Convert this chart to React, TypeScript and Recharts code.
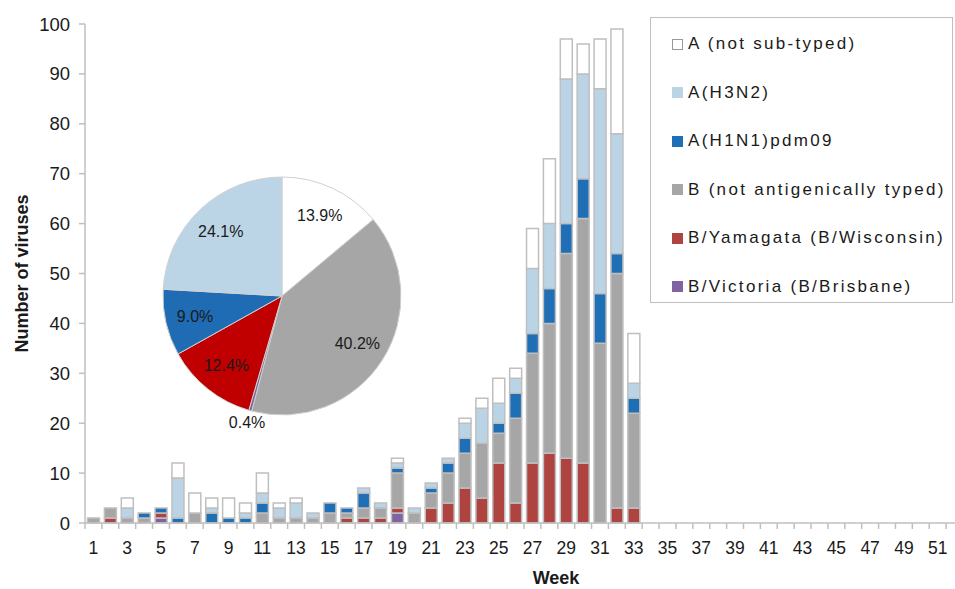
import { BarChart, Bar, XAxis, YAxis, Label, Legend, PieChart, Pie, Cell } from "recharts"

const weeks = [
  1, 2, 3, 4, 5, 6, 7, 8, 9, 10, 11, 12, 13, 14, 15, 16, 17, 18, 19, 20, 21, 22, 23, 24, 25, 26,
  27, 28, 29, 30, 31, 32, 33, 34, 35, 36, 37, 38, 39, 40, 41, 42, 43, 44, 45, 46, 47, 48, 49, 50, 51, 52,
]

// counts per week, weeks 1..52
const aNotSubtyped = [
  0, 0, 2, 0, 0, 3, 4, 2, 4, 2, 4, 1, 1, 0, 0, 0, 0, 0, 1, 0, 0, 0, 1, 2, 5, 2,
  8, 13, 8, 6, 10, 21, 10, 0, 0, 0, 0, 0, 0, 0, 0, 0, 0, 0, 0, 0, 0, 0, 0, 0, 0, 0,
]
const aH3N2 = [
  0, 0, 2, 0, 0, 8, 0, 1, 0, 1, 2, 2, 3, 1, 0, 0, 1, 1, 1, 1, 1, 1, 3, 7, 4, 3,
  13, 13, 29, 21, 41, 24, 3, 0, 0, 0, 0, 0, 0, 0, 0, 0, 0, 0, 0, 0, 0, 0, 0, 0, 0, 0,
]
const aH1N1 = [
  0, 0, 0, 1, 1, 1, 0, 2, 1, 1, 2, 0, 0, 0, 2, 1, 3, 0, 1, 0, 1, 2, 3, 0, 2, 5,
  4, 7, 6, 8, 10, 4, 3, 0, 0, 0, 0, 0, 0, 0, 0, 0, 0, 0, 0, 0, 0, 0, 0, 0, 0, 0,
]
const bNotTyped = [
  1, 2, 1, 1, 0, 0, 2, 0, 0, 0, 2, 1, 1, 1, 2, 1, 2, 2, 7, 2, 3, 6, 7, 11, 6, 17,
  22, 26, 41, 49, 36, 47, 19, 0, 0, 0, 0, 0, 0, 0, 0, 0, 0, 0, 0, 0, 0, 0, 0, 0, 0, 0,
]
const bYamagata = [
  0, 1, 0, 0, 1, 0, 0, 0, 0, 0, 0, 0, 0, 0, 0, 1, 1, 1, 1, 0, 3, 4, 7, 5, 12, 4,
  12, 14, 13, 12, 0, 3, 3, 0, 0, 0, 0, 0, 0, 0, 0, 0, 0, 0, 0, 0, 0, 0, 0, 0, 0, 0,
]
const bVictoria = [
  0, 0, 0, 0, 1, 0, 0, 0, 0, 0, 0, 0, 0, 0, 0, 0, 0, 0, 2, 0, 0, 0, 0, 0, 0, 0,
  0, 0, 0, 0, 0, 0, 0, 0, 0, 0, 0, 0, 0, 0, 0, 0, 0, 0, 0, 0, 0, 0, 0, 0, 0, 0,
]

const yTicks = [0, 10, 20, 30, 40, 50, 60, 70, 80, 90, 100]

// season share (%), pie order clockwise from 12 o'clock
const pieNames = ["A (not sub-typed)", "B (not antigenically typed)", "B/Victoria (B/Brisbane)", "B/Yamagata (B/Wisconsin)", "A(H1N1)pdm09", "A(H3N2)"]
const pieShares = [13.9, 40.2, 0.4, 12.4, 9.0, 24.1]

const series = [
  { key: "vic", name: "B/Victoria (B/Brisbane)", color: "#8064a2" },
  { key: "yam", name: "B/Yamagata (B/Wisconsin)", color: "#ae4340" },
  { key: "bnt", name: "B (not antigenically typed)", color: "#a6a6a6" },
  { key: "h1", name: "A(H1N1)pdm09", color: "#1f6fb6" },
  { key: "h3", name: "A(H3N2)", color: "#bad4e6" },
  { key: "ant", name: "A (not sub-typed)", color: "#ffffff" },
]

const pieColors: Record<string, string> = {
  "A (not sub-typed)": "#ffffff",
  "A(H3N2)": "#bcd5e6",
  "A(H1N1)pdm09": "#1f6cb5",
  "B (not antigenically typed)": "#a6a6a6",
  "B/Yamagata (B/Wisconsin)": "#c00000",
  "B/Victoria (B/Brisbane)": "#8064a2",
}

const data = weeks.map((week, i) => ({
  week,
  vic: bVictoria[i],
  yam: bYamagata[i],
  bnt: bNotTyped[i],
  h1: aH1N1[i],
  h3: aH3N2[i],
  ant: aNotSubtyped[i],
}))

const pieData = pieNames.map((name, i) => ({ name, value: pieShares[i] }))

const FONT = "'Liberation Sans', Arial, sans-serif"
const AXIS = "#bfbfbf"
const CHART_W = 963
const PLOT_LEFT = 85
const PLOT_BOTTOM = 523
const BAND = (CHART_W - PLOT_LEFT) / weeks.length

const WeekTick = (props: any) => {
  const { x, payload } = props
  const left = x - BAND / 2
  return (
    <g>
      <line x1={left} x2={left} y1={PLOT_BOTTOM} y2={PLOT_BOTTOM + 6} stroke={AXIS} strokeWidth={1.5} />
      {payload.value % 2 === 1 && (
        <text x={x} y={PLOT_BOTTOM + 31} textAnchor="middle" fontSize={17.5} fill="#1a1a1a" fontFamily={FONT}>
          {payload.value}
        </text>
      )}
    </g>
  )
}

const LegendBox = () => (
  <div
    style={{
      width: 303,
      height: 286,
      boxSizing: "border-box",
      border: `1.5px solid ${AXIS}`,
      background: "#fff",
      paddingTop: 2,
      fontFamily: FONT,
    }}
  >
    {[...series].reverse().map((s) => (
      <div key={s.key} style={{ display: "flex", alignItems: "center", height: 48.5, paddingLeft: 21 }}>
        <span
          style={{
            width: 11,
            height: 11,
            flex: "none",
            boxSizing: "border-box",
            background: s.color,
            border: s.key === "ant" ? "1px solid #999" : "none",
            marginRight: 5,
          }}
        />
        <span style={{ fontSize: 17, letterSpacing: 2.3, color: "#1a1a1a", whiteSpace: "nowrap" }}>{s.name}</span>
      </div>
    ))}
  </div>
)

const RADIAN = Math.PI / 180

const pieLabel = (props: any) => {
  const { cx, cy, midAngle, outerRadius, value } = props
  const r = value < 1 ? outerRadius * 1.1 : outerRadius * 0.75
  const x = cx + r * Math.cos(-midAngle * RADIAN)
  const y = cy + r * Math.sin(-midAngle * RADIAN)
  return (
    <text x={x} y={y} textAnchor="middle" dominantBaseline="central" fontSize={16} fill="#1a1a1a" fontFamily={FONT}>
      {`${value.toFixed(1)}%`}
    </text>
  )
}

export default function App() {
  return (
    <div
      style={{
        position: "absolute",
        left: 0,
        top: 0,
        width: 955,
        height: 589,
        overflow: "hidden",
        background: "#fff",
        fontFamily: FONT,
      }}
    >
      <BarChart
        width={CHART_W}
        height={589}
        data={data}
        margin={{ top: 24, right: 0, bottom: 0, left: 25 }}
        barCategoryGap="15%"
      >
        <XAxis
          dataKey="week"
          interval={0}
          height={66}
          tickLine={false}
          tickSize={0}
          axisLine={{ stroke: AXIS, strokeWidth: 1.5 }}
          tick={<WeekTick />}
        >
          <Label
            value="Week"
            position="insideBottom"
            offset={5}
            dx={32}
            style={{ fontSize: 18, fontWeight: "bold", fill: "#1a1a1a", fontFamily: FONT }}
          />
        </XAxis>
        <YAxis
          width={60}
          domain={[0, 100]}
          ticks={yTicks}
          tickSize={6}
          tickMargin={9}
          axisLine={{ stroke: AXIS, strokeWidth: 1.5 }}
          tickLine={{ stroke: AXIS, strokeWidth: 1.5 }}
          tick={{ fontSize: 18.5, fill: "#1a1a1a", fontFamily: FONT }}
        >
          <Label
            value="Number of viruses"
            angle={-90}
            position="insideLeft"
            offset={-3}
            style={{ textAnchor: "middle", fontSize: 18, fontWeight: "bold", fill: "#1a1a1a", fontFamily: FONT }}
          />
        </YAxis>
        <Legend
          layout="vertical"
          align="center"
          verticalAlign="middle"
          content={<LegendBox />}
          wrapperStyle={{ left: 650, top: 17, width: 303 }}
        />
        {series.map((s) => (
          <Bar
            key={s.key}
            dataKey={s.key}
            name={s.name}
            stackId="w"
            fill={s.color}
            stroke={AXIS}
            strokeWidth={1.5}
            isAnimationActive={false}
          />
        ))}
      </BarChart>
      <div style={{ position: "absolute", left: 127, top: 141 }}>
        <PieChart width={300} height={300}>
          <Pie
            data={pieData}
            dataKey="value"
            nameKey="name"
            cx={150}
            cy={150}
            outerRadius={119}
            startAngle={90}
            endAngle={-270}
            stroke="#d0d0d0"
            strokeWidth={1}
            labelLine={false}
            label={pieLabel}
            isAnimationActive={false}
          >
            {pieData.map((d) => (
              <Cell key={d.name} fill={pieColors[d.name]} />
            ))}
          </Pie>
        </PieChart>
      </div>
    </div>
  )
}
